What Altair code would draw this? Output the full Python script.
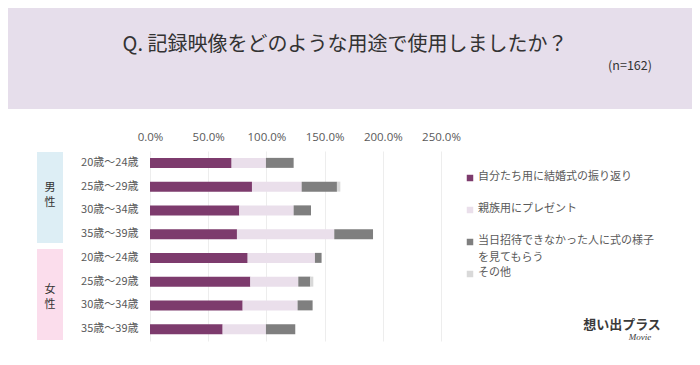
import altair as alt
import pandas as pd

# ---- data ----
genders = ["男性", "男性", "男性", "男性", "女性", "女性", "女性", "女性"]
ages = ["20歳～24歳", "25歳～29歳", "30歳～34歳", "35歳～39歳",
        "20歳～24歳", "25歳～29歳", "30歳～34歳", "35歳～39歳"]
series = ["自分たち用に結婚式の振り返り", "親族用にプレゼント",
          "当日招待できなかった人に式の様子を見てもらう", "その他"]
legend_labels = ["自分たち用に結婚式の振り返り", "親族用にプレゼント",
                 "当日招待できなかった人に式の様子\nを見てもらう", "その他"]
v_self = [70.1, 87.6, 76.7, 74.7, 83.9, 86.2, 79.6, 62.4]
v_family = [29.5, 42.7, 46.7, 83.6, 57.8, 41.2, 47.2, 37.2]
v_guests = [23.8, 30.3, 14.9, 33.3, 5.7, 10.3, 12.9, 25.2]
v_other = [0.0, 2.9, 0.0, 0.0, 0.0, 2.6, 0.0, 0.0]
x_ticks = [0, 50, 100, 150, 200, 250]
colors = ["#7D3B6D", "#EADFEB", "#7F7F7F", "#D9D9D9"]

FONT = "Noto Sans CJK JP"
GREY = "#595959"

keys = [f"{g}|{a}" for g, a in zip(genders, ages)]
rows = []
for s_i, vals in enumerate([v_self, v_family, v_guests, v_other]):
    for k, v in zip(keys, vals):
        rows.append({"key": k, "series": series[s_i], "order": s_i, "value": v})
df = pd.DataFrame(rows)

W, H = 291, 190

bars = alt.Chart(df).mark_bar(size=10).encode(
    x=alt.X("value:Q", stack="zero",
            scale=alt.Scale(domain=[0, 250], nice=False),
            axis=alt.Axis(orient="top", values=x_ticks, title=None,
                          labelExpr="format(datum.value, '.1f') + '%'",
                          labelOverlap=False, labelFlush=False,
                          domain=False, ticks=False, labelPadding=9,
                          labelFontSize=11.5, labelColor=GREY, labelFont="Open Sans",
                          grid=True, gridColor="#EDEDED")),
    y=alt.Y("key:N", sort=keys,
            scale=alt.Scale(paddingInner=0, paddingOuter=0),
            axis=alt.Axis(title=None, labelExpr="split(datum.label, '|')[1]",
                          domain=False, ticks=False, labelPadding=12,
                          labelFontSize=11, labelColor=GREY, labelFont=FONT)),
    color=alt.Color("series:N", scale=alt.Scale(domain=series, range=colors), legend=None),
    order=alt.Order("order:Q"),
)

# ---- decorations (pixel positions relative to the plot origin) ----
band = alt.Chart(pd.DataFrame({"a": [0]})).mark_rect(color="#E6DEEB").encode(
    x=alt.value(-160), x2=alt.value(560), y=alt.value(-160), y2=alt.value(-42))

title = alt.Chart(pd.DataFrame({"t": ["Q. 記録映像をどのような用途で使用しましたか？"]})).mark_text(
    font=FONT, fontSize=20, color="#333333", baseline="middle", align="center"
).encode(text="t:N", x=alt.value(195), y=alt.value(-106))

ntext = alt.Chart(pd.DataFrame({"t": ["(n=162)"]})).mark_text(
    font=FONT, fontSize=12.5, color="#333333", baseline="middle", align="center"
).encode(text="t:N", x=alt.value(480), y=alt.value(-85))

male_box = alt.Chart(pd.DataFrame({"a": [0]})).mark_rect(color="#DDEEF5").encode(
    x=alt.value(-113), x2=alt.value(-87), y=alt.value(1), y2=alt.value(92))
female_box = alt.Chart(pd.DataFrame({"a": [0]})).mark_rect(color="#FBDDEC").encode(
    x=alt.value(-113), x2=alt.value(-87), y=alt.value(98), y2=alt.value(189))

male_txt = alt.Chart(pd.DataFrame({"t": ["男\n性"]})).mark_text(
    font=FONT, fontSize=11, color="#333333", lineBreak="\n", lineHeight=15,
    baseline="top", align="center"
).encode(text="t:N", x=alt.value(-100), y=alt.value(31))
female_txt = alt.Chart(pd.DataFrame({"t": ["女\n性"]})).mark_text(
    font=FONT, fontSize=11, color="#333333", lineBreak="\n", lineHeight=15,
    baseline="top", align="center"
).encode(text="t:N", x=alt.value(-100), y=alt.value(133))

leg_df = pd.DataFrame({"series": series, "label": legend_labels, "idx": list(range(4))})
leg_y = alt.Y("idx:O", scale=alt.Scale(type="point", range=[27, 123], padding=0), axis=None)
leg_sq = alt.Chart(leg_df).mark_square(size=42, opacity=1).encode(
    x=alt.value(320), y=leg_y,
    color=alt.Color("series:N", scale=alt.Scale(domain=series, range=colors), legend=None))
leg_tx = alt.Chart(leg_df).mark_text(
    font=FONT, fontSize=11, color=GREY, align="left", baseline="top",
    lineBreak="\n", lineHeight=17, dy=-7
).encode(x=alt.value(328), y=leg_y, text="label:N")

logo = alt.Chart(pd.DataFrame({"t": ["想い出プラス"]})).mark_text(
    font=FONT, fontSize=13, fontWeight="bold", color="#3A3A3A", align="center", baseline="middle"
).encode(text="t:N", x=alt.value(472), y=alt.value(174))
logo2 = alt.Chart(pd.DataFrame({"t": ["Movie"]})).mark_text(
    font="Liberation Serif", fontSize=9, fontStyle="italic", color="#3A3A3A",
    align="center", baseline="middle"
).encode(text="t:N", x=alt.value(490), y=alt.value(186))

chart = alt.layer(
    band, title, ntext, male_box, female_box, male_txt, female_txt,
    bars, leg_sq, leg_tx, logo, logo2
).resolve_scale(y="independent", color="independent").properties(
    width=W, height=H,
    autosize=alt.AutoSizeParams(type="none"),
    padding={"left": 142, "top": 143, "right": 251, "bottom": 16},
    background="white",
).configure_view(stroke=None)

chart.save("out.html", embed_options={"renderer": "svg", "actions": False})
